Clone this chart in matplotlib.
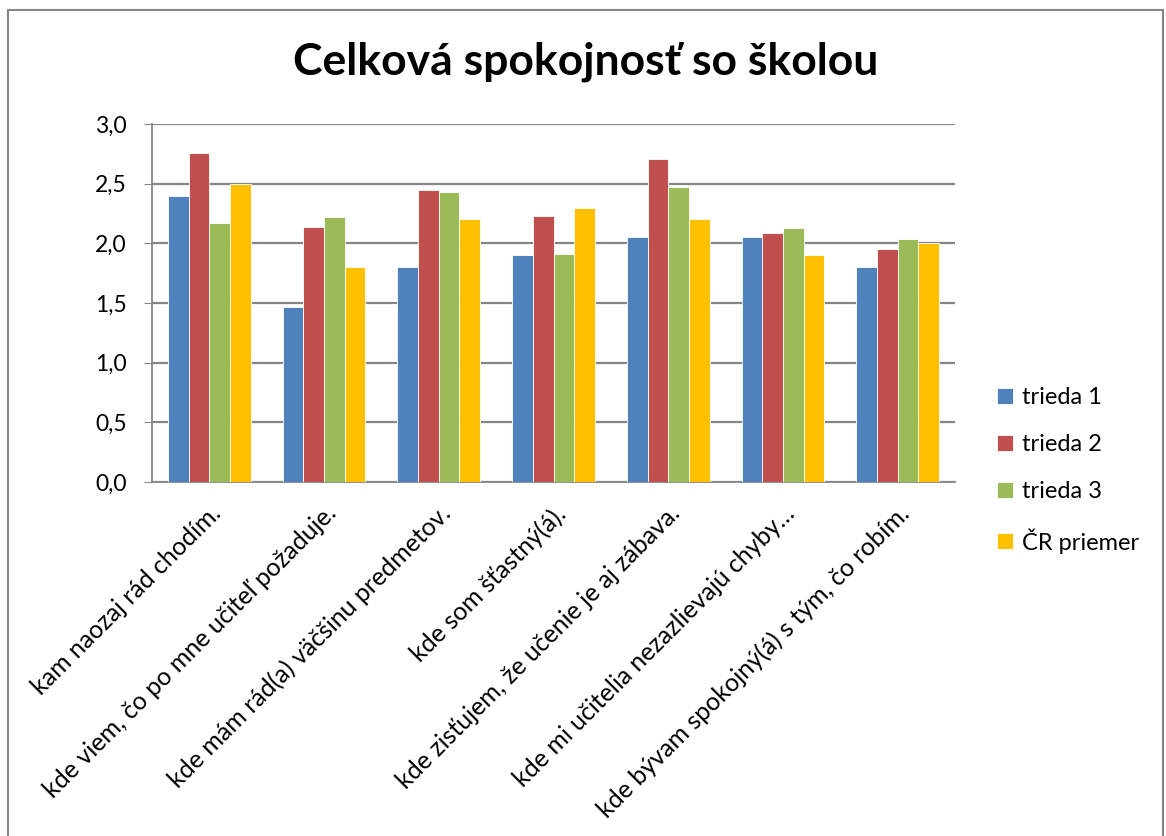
import matplotlib
matplotlib.use("Agg")
import matplotlib.pyplot as plt
import numpy as np
from matplotlib.patches import Rectangle
from matplotlib.ticker import FuncFormatter

plt.rcParams['font.family'] = ['Lato', 'DejaVu Sans']

title = "Celková spokojnosť so školou"
categories = [
    "kam naozaj rád chodím.",
    "kde viem, čo po mne učiteľ požaduje.",
    "kde mám rád(a) väčšinu predmetov.",
    "kde som šťastný(á).",
    "kde zisťujem, že učenie je aj zábava.",
    "kde mi učitelia nezazlievajú chyby…",
    "kde bývam spokojný(á) s tým, čo robím.",
]
series_names = ["trieda 1", "trieda 2", "trieda 3", "ČR priemer"]
trieda1 = [2.40, 1.47, 1.80, 1.90, 2.05, 2.05, 1.80]
trieda2 = [2.76, 2.14, 2.45, 2.23, 2.71, 2.09, 1.95]
trieda3 = [2.17, 2.22, 2.43, 1.91, 2.47, 2.13, 2.04]
cr_priemer = [2.50, 1.80, 2.20, 2.30, 2.20, 1.90, 2.00]
colors = ["#4F81BD", "#C0504D", "#9BBB59", "#FFC000"]

W, H = 1166, 836
fig = plt.figure(figsize=(W / 100, H / 100), dpi=100)
ax = fig.add_axes([152 / W, 1 - 482 / H, (955 - 152) / W, (482 - 124) / H])

x = np.arange(len(categories))
bw = 0.18
data = [trieda1, trieda2, trieda3, cr_priemer]
for i, (vals, name, c) in enumerate(zip(data, series_names, colors)):
    ax.bar(x + (i - 1.5) * bw, vals, width=bw, color=c, label=name,
           edgecolor="white", linewidth=0.6, zorder=3)

ax.set_xlim(-0.5, len(categories) - 0.5)
ax.set_ylim(0, 3.0)
ax.set_yticks(np.arange(0, 3.01, 0.5))
ax.yaxis.set_major_formatter(FuncFormatter(lambda v, p: f"{v:.1f}".replace(".", ",")))
ax.grid(axis="y", color="#868686", linewidth=1.6, zorder=0)
ax.set_axisbelow(True)
for s in ["top", "right"]:
    ax.spines[s].set_visible(False)
ax.spines["left"].set_color("#868686")
ax.spines["bottom"].set_color("#868686")
ax.spines["left"].set_linewidth(1.3)
ax.spines["bottom"].set_linewidth(1.3)
ax.tick_params(axis="y", length=6, color="#868686", labelsize=16.5, pad=12)
ax.tick_params(axis="x", length=0, labelsize=18, pad=14)
ax.set_xticks(x)
ax.set_xticklabels(categories, rotation=45, ha="right", va="top", rotation_mode="anchor")

fig.text(586 / W, 1 - 62 / H, title, ha="center", va="center", fontsize=32, fontweight="bold")

leg = fig.legend(loc="upper left", bbox_to_anchor=(976 / W, 1 - 366 / H), frameon=False,
                 fontsize=17, handlelength=0.65, handleheight=0.65, labelspacing=1.1,
                 handletextpad=0.4)

fig.patches.append(Rectangle((8 / W, -0.05), (1163 - 8) / W, 1.05 - 10 / H,
                             transform=fig.transFigure, fill=False,
                             edgecolor="#868686", linewidth=1.5))

fig.savefig("out.png", dpi=100)
